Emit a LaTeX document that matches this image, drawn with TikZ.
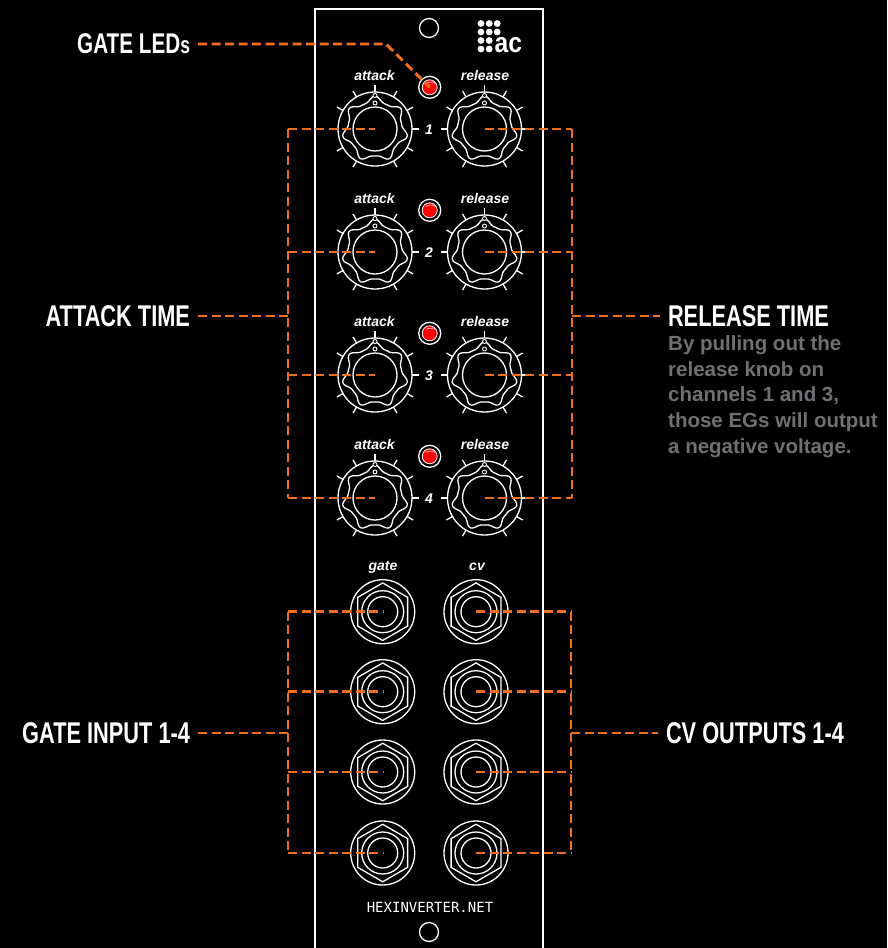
\documentclass[tikz,border=0pt]{standalone}
\usepackage{fontspec}
\setmainfont{Liberation Sans}
\newfontfamily\headfont[FakeStretch=0.726]{Liberation Sans}
\newfontfamily\logofont[FakeStretch=0.88]{Liberation Sans}
\newfontfamily\urlfont{DejaVu Sans Mono}
\definecolor{orange1}{RGB}{240, 110, 30}
\definecolor{gray1}{RGB}{112, 112, 116}
\usetikzlibrary{shapes.geometric}
\tikzset{
  panelline/.style={draw=white, line width=1.3pt},
  knobring/.style={circle, panelline, inner sep=0pt, outer sep=0pt, minimum size=74pt},
  jackring/.style={circle, panelline, inner sep=0pt, outer sep=0pt, minimum size=64pt},
  wire/.style={draw=orange1, line width=2.9pt, dash pattern=on 9pt off 4.5pt},
  headlabel/.style={text=white, font=\headfont\bfseries\fontsize{30}{30}\selectfont, inner sep=4pt, outer sep=4pt},
  knoblabel/.style={text=white, font=\bfseries\itshape\fontsize{14}{14}\selectfont, inner sep=0pt},
  pics/knobface/.style={code={
    \foreach \a in {0,30,60,90,120,150,180,210,240,300,330}
      \draw[panelline] (-\a:37) -- (-\a:44);
    \draw[panelline] (0,0) circle (22pt);
    \draw[panelline] plot[domain=0:360, samples=141]
      ({(27+6*abs(cos(3.5*\x))^4)*cos(\x-90)}, {(27+6*abs(cos(3.5*\x))^4)*sin(\x-90)}) -- cycle;
    \draw[draw=white, line width=0.9pt, fill=black] (0,-33.5) circle (2pt);
    \draw[draw=white, line width=0.9pt, fill=black] (0,-26) circle (2pt);
  }},
  pics/jackface/.style={code={
    \node[regular polygon, regular polygon sides=6, shape border rotate=30, panelline, inner sep=0pt, minimum size=57.5pt] {};
    \draw[panelline] (0,0) circle (21pt);
    \draw[panelline] (0,0) circle (15pt);
  }}
}

\begin{document}
\begin{tikzpicture}[x=1pt, y=-1pt]
  \fill[black] (0,0) rectangle (887,948);
  \useasboundingbox (0,0) rectangle (887,948);

  % panel
  \draw[draw=white, line width=2.6pt] (315,948) -- (315,9) -- (543,9) -- (543,948);
  \node[circle, panelline, inner sep=0pt, minimum size=19pt] (holetop) at (429,28) {};
  \node[circle, panelline, inner sep=0pt, minimum size=19pt] (holebottom) at (429,932) {};

  % logo
  \foreach \px in {481,489.2,497.2} \foreach \py in {23.5,32}
    \fill[white] (\px,\py) circle (3.4pt);
  \foreach \px in {481,489.2} \foreach \py in {40.5,49}
    \fill[white] (\px,\py) circle (3.4pt);
  \node[text=white, font=\logofont\bfseries\fontsize{28}{28}\selectfont, inner sep=0pt, anchor=base west] (logo) at (494.5,52) {ac};

  % knobs
  \foreach \i/\ky in {1/129, 2/252, 3/375, 4/498} {
    \node[knobring] (attack\i) at (375,\ky) {};
    \node[knobring] (release\i) at (484.5,\ky) {};
    \pic at (attack\i.center) {knobface};
    \pic at (release\i.center) {knobface};
    \node[knoblabel] (attacktext\i) at (374.5,\ky-53.5) {attack};
    \node[knoblabel] (releasetext\i) at (485,\ky-53.5) {release};
    \node[knoblabel] (channel\i) at (429,\ky+1) {\i};
    \node[circle, panelline, inner sep=0pt, minimum size=22pt] (led\i) at (429.7,\ky-41.7) {};
    \node[circle, panelline, fill=red, inner sep=0pt, minimum size=15pt, line width=0.8pt] (ledlamp\i) at (led\i.center) {};
    \draw[draw=white!70!red, line width=0.8pt] (led\i.center) ++(-4,-4) .. controls ++(2,-1.6) and ++(6,-1.6) .. ++(8,0);
  }

  % jacks
  \foreach \i/\jy in {1/611.7, 2/691.7, 3/772, 4/853} {
    \node[jackring] (gate\i) at (382.7,\jy) {};
    \node[jackring] (cv\i) at (476,\jy) {};
    \pic at (gate\i.center) {jackface};
    \pic at (cv\i.center) {jackface};
  }
  \node[knoblabel, anchor=base] (gatetext) at (383,570) {gate};
  \node[knoblabel, anchor=base] (cvtext) at (477,570) {cv};
  \node[text=white, font=\urlfont\fontsize{14}{14}\selectfont, inner sep=0pt] (urltext) at (430,907) {HEXINVERTER.NET};

  % labels
  \node[headlabel, anchor=east, font=\headfont\bfseries\fontsize{28.5}{30}\selectfont] (ledlabel) at (198,44) {GATE LED{\fontsize{24}{24}\selectfont s}};
  \node[headlabel, anchor=east] (attacklabel) at (198,316) {ATTACK TIME};
  \node[headlabel, anchor=east] (gatelabel) at (198,733) {GATE INPUT 1-4};
  \node[headlabel, anchor=west] (releaselabel) at (660,316) {RELEASE TIME};
  \node[headlabel, anchor=west] (cvlabel) at (658,733) {CV OUTPUTS 1-4};
  \node[text=gray1, font=\bfseries\fontsize{20.5}{25.7}\selectfont, align=left, inner sep=0pt, anchor=north west] (releasenote) at (668,335.5) {By pulling out the\\release knob on\\channels 1 and 3,\\those EGs will output\\a negative voltage.};

  % connectors
  \coordinate (ledbend) at (386,44);
  \coordinate (attackbus) at (288,316);
  \coordinate (releasebus) at (572,316);
  \coordinate (gatebus) at (288,733);
  \coordinate (cvbus) at (571,733);
  \draw[wire] (ledlabel.east) -- (ledbend) -- (led1.center);
  \draw[wire] (attacklabel.east) -- (attackbus);
  \draw[wire] (releasebus) -- (releaselabel.west);
  \draw[wire] (gatelabel.east) -- (gatebus);
  \draw[wire] (cvbus) -- (cvlabel.west);
  \draw[wire] (attack1.center -| attackbus) -- (attack4.center -| attackbus);
  \draw[wire] (release1.center -| releasebus) -- (release4.center -| releasebus);
  \draw[wire] (gate1.center -| gatebus) -- (gate4.center -| gatebus);
  \draw[wire] (cv1.center -| cvbus) -- (cv4.center -| cvbus);
  \foreach \i in {1,2,3,4} {
    \draw[wire] (attack\i.center -| attackbus) -- (attack\i.center);
    \draw[wire] (release\i.center) -- (release\i.center -| releasebus);
    \draw[wire] (gate\i.center -| gatebus) -- (gate\i.center);
    \draw[wire] (cv\i.center) -- (cv\i.center -| cvbus);
  }
\end{tikzpicture}
\end{document}
